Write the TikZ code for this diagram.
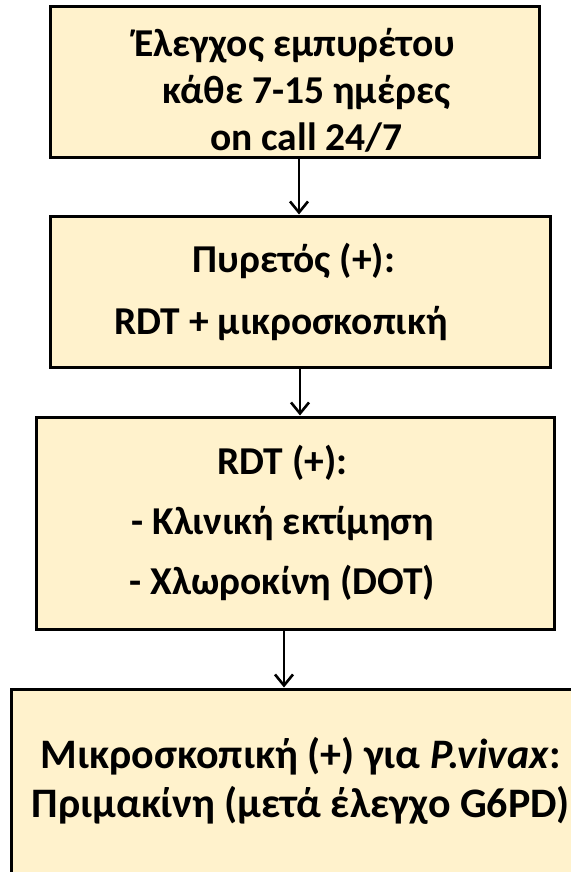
\documentclass[tikz,border=0pt]{standalone}
\usepackage{fontspec}
\setmainfont{Carlito}
\usetikzlibrary{positioning}
\usetikzlibrary{shapes, arrows.meta}
\definecolor{boxfill}{HTML}{FFF2CC}

\begin{document}
\begin{tikzpicture}[x=1pt, y=-1pt]
    \tikzstyle{block} = [rectangle, draw, line width=3pt, fill=boxfill,
    inner sep=0pt]
    \tikzstyle{boxtext} = [align=center, inner sep=0pt]
    \tikzstyle{line} = [draw, line width=2.6pt,
    -{Straight Barb[length=11pt,width=18pt,line width=2.6pt]}]
    \useasboundingbox (0,0) rectangle (570,872);
    % boxes
    \node [block, minimum width=489pt, minimum height=150pt] (check)
    at (294.5,82) {};
    \node [block, minimum width=500pt, minimum height=151pt] (fever)
    at (300,291.5) {};
    \node [block, minimum width=518pt, minimum height=212pt] (tests)
    at (295,523) {};
    \node [block, minimum width=580pt, minimum height=191pt] (treat)
    at (301,784.5) {};
    % texts
    \node [boxtext, font=\bfseries\fontsize{39.5}{47}\selectfont]
    (checktxt) at ([xshift=0pt, yshift=-8pt]check.center)
    {Έλεγχος εμπυρέτου\\ \hspace*{24pt}κάθε 7-15 ημέρες\\
    \hspace*{24pt}on call 24/7};
    \node [boxtext, font=\bfseries\fontsize{39.5}{62}\selectfont]
    (fevertxt) at ([xshift=-19pt]fever.center)
    {\hspace*{26pt}Πυρετός (+):\\ RDT + μικροσκοπική};
    \node [boxtext, font=\bfseries\fontsize{39.5}{60}\selectfont]
    (teststxt) at ([xshift=-12.5pt]tests.center)
    {RDT (+):\\ - Κλινική εκτίμηση\\ - Χλωροκίνη (DOT)};
    \node [boxtext, font=\bfseries\fontsize{42}{49}\selectfont]
    (treattxt) at ([yshift=4pt]treat.center)
    {Μικροσκοπική (+) για \textit{P.vivax}:\\ Πριμακίνη (μετά έλεγχο G6PD)};
    % arrows
    \path [line] ([xshift=4.5pt]check.south) -- ([xshift=-1pt]fever.north);
    \path [line] (fever.south) -- ([xshift=5pt]tests.north);
    \path [line] ([xshift=-11pt]tests.south) -- ([xshift=-17pt]treat.north);
\end{tikzpicture}
\end{document}
